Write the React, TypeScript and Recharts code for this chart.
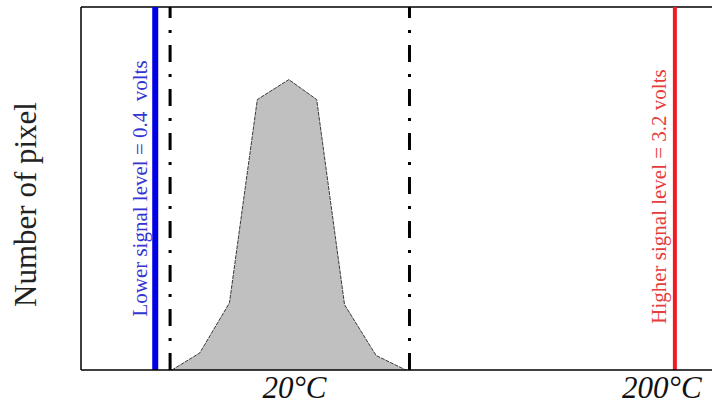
import {
    ComposedChart,
    Area,
    XAxis,
    YAxis,
    ReferenceLine,
} from 'recharts';

// ═══════════════════════════════════════════════════════════════════════════
// DATA – histogram of pixel counts against sensor signal (volts)
// ═══════════════════════════════════════════════════════════════════════════

const signalVolts = [0.49, 0.64, 0.8, 0.95, 1.12, 1.27, 1.42, 1.59, 1.75];
const pixelCounts = [0, 4.7, 18.5, 74.5, 80, 74.5, 18, 4, 0];

const tickVolts = [1.15, 3.13];
const tickLabels = ['20°C', '200°C'];

const lowerLevel = 0.4;
const higherLevel = 3.2;
const windowEdges = [0.48, 1.77];

const lowerText = 'Lower signal level = 0.4\u00a0 volts';
const higherText = 'Higher signal level = 3.2 volts';
const yTitle = 'Number of pixel';

const data = signalVolts.map((v, i) => ({ volts: v, count: pixelCounts[i] }));

const SERIF = '"Liberation Serif", "DejaVu Serif", serif';

// rotated text next to a vertical reference line
const SideLabel = ({ viewBox, text, color, dx, dy }: any) => {
    if (!viewBox) return null;
    const x = viewBox.x + dx;
    const y = viewBox.y + viewBox.height / 2 + dy;
    return (
        <text
            x={x}
            y={y}
            transform={`rotate(-90 ${x} ${y})`}
            textAnchor="middle"
            fill={color}
            fontFamily={SERIF}
            fontSize={21}
        >
            {text}
        </text>
    );
};

const AxisTitle = ({ viewBox }: any) => {
    if (!viewBox) return null;
    const x = viewBox.x + 36;
    const y = viewBox.y + viewBox.height / 2 + 16;
    return (
        <text
            x={x}
            y={y}
            transform={`rotate(-90 ${x} ${y})`}
            textAnchor="middle"
            fill="#222"
            fontFamily={SERIF}
            fontSize={31}
        >
            {yTitle}
        </text>
    );
};

export default function App() {
    return (
        <div style={{ position: 'absolute', left: 0, top: 0, background: '#fff' }}>
            <ComposedChart
                width={712}
                height={419}
                data={data}
                margin={{ top: 7, right: 0, bottom: 0, left: 0 }}
            >
                <XAxis
                    dataKey="volts"
                    type="number"
                    domain={[0, 3.4]}
                    ticks={tickVolts}
                    tickFormatter={(v: number) => tickLabels[tickVolts.indexOf(v)] ?? ''}
                    height={49}
                    tickLine={false}
                    tickSize={0}
                    tickMargin={6}
                    axisLine={{ stroke: '#000', strokeWidth: 1.5 }}
                    tick={{ fill: '#111', fontSize: 31, fontStyle: 'italic', fontFamily: SERIF }}
                    allowDataOverflow
                />
                <YAxis
                    width={81}
                    domain={[0, 100]}
                    tick={false}
                    tickLine={false}
                    axisLine={{ stroke: '#000', strokeWidth: 1.5 }}
                    label={<AxisTitle />}
                />

                {/* top frame */}
                <ReferenceLine y={100} stroke="#000" strokeWidth={1.5} />

                <Area
                    type="linear"
                    dataKey="count"
                    fill="#c0c0c0"
                    fillOpacity={1}
                    stroke="#3a3a3a"
                    strokeWidth={1}
                    strokeDasharray="4 1"
                    isAnimationActive={false}
                />

                {windowEdges.map((x) => (
                    <ReferenceLine
                        key={x}
                        x={x}
                        stroke="#000"
                        strokeWidth={3}
                        strokeDasharray="17 12 3 12"
                    />
                ))}

                <ReferenceLine
                    x={lowerLevel}
                    stroke="#0000e6"
                    strokeWidth={6}
                    label={<SideLabel text={lowerText} color="#3434d2" dx={-8} dy={0} />}
                />
                <ReferenceLine
                    x={higherLevel}
                    stroke="#ee1c24"
                    strokeWidth={4}
                    label={<SideLabel text={higherText} color="#e63c3c" dx={-9} dy={8} />}
                />
            </ComposedChart>
        </div>
    );
}
